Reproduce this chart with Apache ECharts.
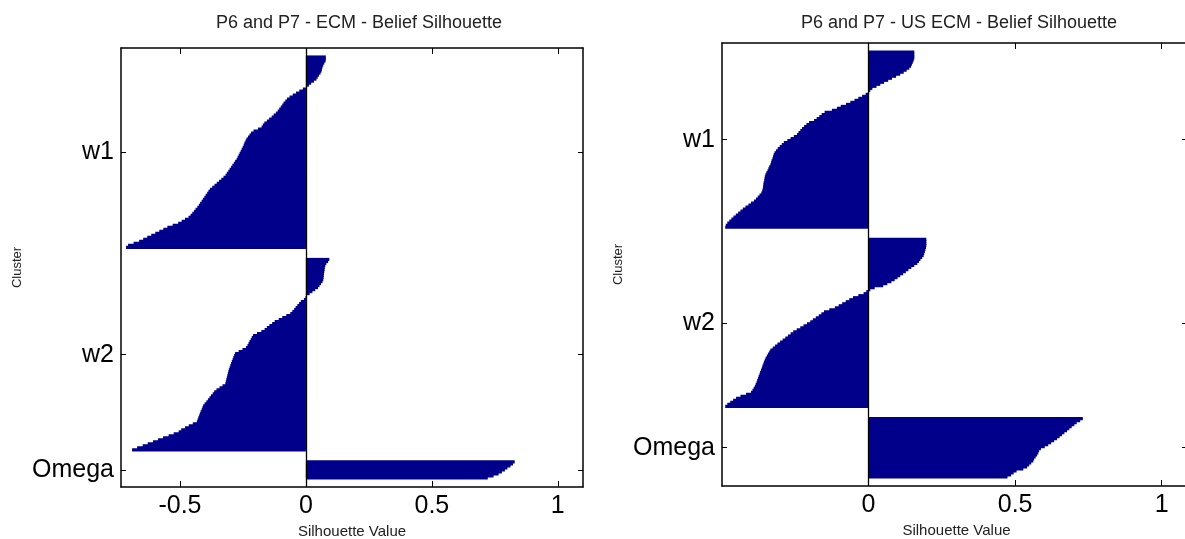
<!DOCTYPE html>
<html>
<head>
<meta charset="utf-8">
<script src="https://cdn.jsdelivr.net/npm/echarts@6/dist/echarts.min.js"></script>
<style>
html, body { margin: 0; padding: 0; background: #fff; }
#main { width: 1185px; height: 539px; }
</style>
</head>
<body>
<div id="main"></div>
<script>
var clusterNames = ['w1', 'w2', 'Omega'];
var xTicks = [-0.5, 0, 0.5, 1];

// ECM - silhouette values per cluster, sorted high to low
var ecmW1 = [0.079, 0.079, 0.078, 0.073, 0.069, 0.066, 0.064, 0.062, 0.058, 0.052,
    0.047, 0.042, 0.032, 0.021, 0.012, 0.003, -0.012, -0.026, -0.039, -0.052,
    -0.065, -0.075, -0.082, -0.089, -0.094, -0.100, -0.106, -0.112, -0.119, -0.128,
    -0.136, -0.146, -0.155, -0.165, -0.171, -0.176, -0.190, -0.208, -0.218, -0.224,
    -0.230, -0.236, -0.240, -0.244, -0.247, -0.251, -0.255, -0.259, -0.263, -0.267,
    -0.271, -0.275, -0.281, -0.286, -0.292, -0.297, -0.303, -0.308, -0.314, -0.319,
    -0.327, -0.336, -0.345, -0.354, -0.363, -0.372, -0.381, -0.387, -0.392, -0.398,
    -0.403, -0.409, -0.414, -0.420, -0.425, -0.431, -0.438, -0.444, -0.451, -0.458,
    -0.466, -0.480, -0.493, -0.507, -0.529, -0.550, -0.566, -0.582, -0.598, -0.614,
    -0.630, -0.646, -0.662, -0.684, -0.706, -0.714];
var ecmW2 = [0.093, 0.088, 0.081, 0.077, 0.075, 0.074, 0.073, 0.072, 0.071, 0.070,
    0.069, 0.066, 0.060, 0.054, 0.048, 0.037, 0.026, 0.015, 0.004, -0.002,
    -0.008, -0.020, -0.027, -0.034, -0.041, -0.047, -0.054, -0.062, -0.078, -0.094,
    -0.108, -0.124, -0.134, -0.145, -0.155, -0.164, -0.177, -0.194, -0.210, -0.215,
    -0.219, -0.224, -0.228, -0.232, -0.238, -0.252, -0.267, -0.281, -0.285, -0.288,
    -0.291, -0.294, -0.297, -0.300, -0.303, -0.306, -0.308, -0.310, -0.312, -0.314,
    -0.316, -0.318, -0.320, -0.331, -0.343, -0.355, -0.364, -0.370, -0.377, -0.383,
    -0.389, -0.395, -0.402, -0.408, -0.411, -0.414, -0.418, -0.421, -0.424, -0.427,
    -0.430, -0.433, -0.449, -0.465, -0.480, -0.495, -0.505, -0.525, -0.545, -0.567,
    -0.587, -0.607, -0.628, -0.648, -0.670, -0.690];
var ecmOmega = [0.829, 0.822, 0.812, 0.800, 0.790, 0.778, 0.765, 0.745, 0.722];

// US ECM
var usW1 = [0.156, 0.156, 0.156, 0.156, 0.154, 0.151, 0.148, 0.145, 0.139, 0.130,
    0.120, 0.108, 0.094, 0.080, 0.067, 0.053, 0.040, 0.027, 0.013, 0.006,
    0.002, -0.010, -0.022, -0.035, -0.048, -0.062, -0.077, -0.095, -0.108, -0.125,
    -0.150, -0.160, -0.168, -0.177, -0.186, -0.203, -0.212, -0.220, -0.227, -0.233,
    -0.239, -0.244, -0.255, -0.266, -0.277, -0.289, -0.296, -0.303, -0.310, -0.316,
    -0.321, -0.324, -0.326, -0.328, -0.331, -0.333, -0.335, -0.339, -0.342, -0.345,
    -0.349, -0.352, -0.354, -0.355, -0.356, -0.358, -0.359, -0.360, -0.361, -0.363,
    -0.366, -0.372, -0.378, -0.384, -0.391, -0.401, -0.410, -0.420, -0.429, -0.437,
    -0.445, -0.453, -0.461, -0.468, -0.475, -0.482, -0.487, -0.489];
var usW2 = [0.197, 0.197, 0.197, 0.197, 0.196, 0.194, 0.192, 0.190, 0.188, 0.183,
    0.177, 0.172, 0.166, 0.156, 0.146, 0.136, 0.127, 0.118, 0.108, 0.099,
    0.089, 0.078, 0.064, 0.050, 0.021, 0.006, -0.008, -0.017, -0.035, -0.053,
    -0.066, -0.078, -0.090, -0.102, -0.115, -0.134, -0.152, -0.161, -0.170, -0.180,
    -0.190, -0.199, -0.210, -0.222, -0.233, -0.245, -0.257, -0.266, -0.275, -0.284,
    -0.293, -0.302, -0.311, -0.319, -0.327, -0.335, -0.339, -0.343, -0.347, -0.351,
    -0.354, -0.357, -0.359, -0.362, -0.364, -0.367, -0.370, -0.372, -0.375, -0.377,
    -0.380, -0.382, -0.385, -0.388, -0.392, -0.396, -0.401, -0.418, -0.437, -0.452,
    -0.462, -0.472, -0.482, -0.489];
var usOmega = [0.731, 0.722, 0.710, 0.702, 0.693, 0.685, 0.677, 0.668, 0.660, 0.652,
    0.643, 0.633, 0.623, 0.613, 0.601, 0.588, 0.582, 0.579, 0.575, 0.570,
    0.565, 0.562, 0.555, 0.548, 0.541, 0.528, 0.505, 0.495, 0.486, 0.474];

var barColor = '#00008b';
var fontFam = 'Liberation Sans, Arial, sans-serif';

// lay the clusters out one after another with empty rows between them
function buildRows(groups, space) {
    var cats = [], vals = [], centers = [];
    var k = 0;
    function pad(n) {
        for (var i = 0; i < n; i++) { cats.push('r' + (k++)); vals.push(null); }
    }
    pad(space - 1);
    groups.forEach(function(g, gi) {
        if (gi > 0) pad(space);
        centers.push(cats.length + g.length / 2);
        g.forEach(function(v) { cats.push('r' + (k++)); vals.push(v); });
    });
    pad(space - 1);
    return { cats: cats, vals: vals, centers: centers };
}

var left = buildRows([ecmW1, ecmW2, ecmOmega], 5);
var right = buildRows([usW1, usW2, usOmega], 5);

function clusterLabel(centers) {
    return function(v) {
        for (var i = 0; i < centers.length; i++) {
            if (Math.abs(centers[i] - v) < 0.01) return clusterNames[i];
        }
        return '';
    };
}

function frameLine(show) {
    return { show: show, onZero: false, lineStyle: { color: '#000', width: 1.5 } };
}

function xAx(grid, min, pos, labels) {
    // the tick sitting on the frame edge is not drawn
    var ticks = xTicks.filter(function(t) { return t > min + 0.001; });
    return {
        type: 'value', gridIndex: grid, position: pos, min: min, max: 1.1,
        axisLine: frameLine(true),
        splitLine: { show: false },
        axisTick: { inside: true, length: 6, customValues: ticks, lineStyle: { color: '#000', width: 1 } },
        axisLabel: { show: labels, customValues: ticks, margin: 7, color: '#000', fontSize: 25, fontFamily: fontFam },
        name: labels ? 'Silhouette Value' : '',
        nameLocation: 'middle', nameGap: 35,
        nameTextStyle: { color: '#222', fontSize: 15, fontFamily: fontFam }
    };
}

function yVal(grid, rows, pos, labels, tickLen, line) {
    return {
        type: 'value', gridIndex: grid, position: pos, inverse: true,
        min: 0, max: rows.cats.length,
        axisLine: frameLine(line),
        splitLine: { show: false },
        axisTick: { inside: true, length: tickLen, customValues: rows.centers, lineStyle: { color: '#000', width: 1 } },
        axisLabel: { show: labels, customValues: rows.centers, formatter: clusterLabel(rows.centers),
            margin: 7, color: '#000', fontSize: 25, fontFamily: fontFam },
        name: labels ? 'Cluster' : '',
        nameLocation: 'middle', nameGap: 97, nameRotate: 90,
        nameTextStyle: { color: '#222', fontSize: 13, fontFamily: fontFam }
    };
}

function barSeries(xi, yi, rows) {
    return {
        type: 'bar', xAxisIndex: xi, yAxisIndex: yi, data: rows.vals,
        barWidth: 3.2, silent: true,
        itemStyle: { color: barColor },
        markLine: {
            silent: true, symbol: 'none', label: { show: false },
            lineStyle: { color: '#000', width: 1.3, type: 'solid' },
            data: [{ xAxis: 0 }]
        }
    };
}

var chart = echarts.init(document.getElementById('main'));
chart.setOption({
    animation: false,
    backgroundColor: '#fff',
    title: [
        { text: 'P6 and P7 - ECM - Belief Silhouette', left: 354, top: 9, textAlign: 'center',
          textStyle: { color: '#222', fontSize: 18, fontWeight: 'normal', fontFamily: fontFam } },
        { text: 'P6 and P7 - US ECM - Belief Silhouette', left: 954, top: 9, textAlign: 'center',
          textStyle: { color: '#222', fontSize: 18, fontWeight: 'normal', fontFamily: fontFam } }
    ],
    grid: [
        { left: 121, top: 48, width: 462, height: 439, outerBoundsMode: 'none' },
        // the right frame runs past the picture edge
        { left: 722, top: 43, width: 469, height: 443, outerBoundsMode: 'none' }
    ],
    xAxis: [
        xAx(0, -0.734, 'bottom', true),
        xAx(0, -0.734, 'top', false),
        xAx(1, -0.5, 'bottom', true),
        xAx(1, -0.5, 'top', false)
    ],
    yAxis: [
        { type: 'category', gridIndex: 0, inverse: true, data: left.cats, show: false },
        yVal(0, left, 'left', true, 5, true),
        yVal(0, left, 'right', false, 5, true),
        { type: 'category', gridIndex: 1, inverse: true, data: right.cats, show: false },
        yVal(1, right, 'left', true, 5, true),
        yVal(1, right, 'right', false, 9, false)
    ],
    series: [
        barSeries(0, 0, left),
        barSeries(2, 3, right)
    ]
});
</script>
</body>
</html>
